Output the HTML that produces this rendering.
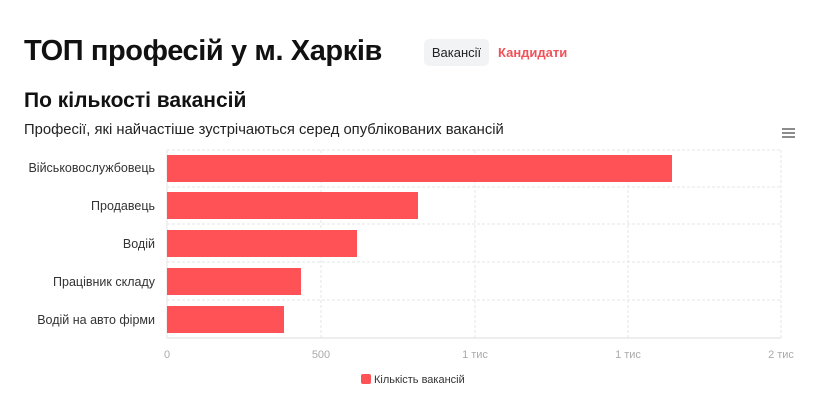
<!DOCTYPE html>
<html><head><meta charset="utf-8"><style>
body{margin:0;width:840px;height:404px;background:#fff;font-family:"Liberation Sans",sans-serif;position:relative;overflow:hidden}
.a{position:absolute;white-space:nowrap}
</style></head><body>
<div class="a" style="left:24px;top:35px;font-size:29px;font-weight:bold;color:#111;letter-spacing:-0.4px">ТОП професій у м. Харків</div>
<div class="a" style="left:424px;top:39px;width:65px;height:27px;background:#f1f3f5;border-radius:5px;font-size:13px;line-height:27px;text-align:center;color:#222">Вакансії</div>
<div class="a" style="left:498px;top:39px;line-height:27px;font-size:13px;font-weight:bold;color:#f0525a">Кандидати</div>
<div class="a" style="left:24px;top:89px;font-size:21px;font-weight:bold;color:#111">По кількості вакансій</div>
<div class="a" style="left:24px;top:122px;font-size:14.8px;color:#222">Професії, які найчастіше зустрічаються серед опублікованих вакансій</div>
<svg class="a" style="left:0;top:0" width="840" height="404">
<g stroke="#666" stroke-width="1.5"><line x1="782" y1="129" x2="795" y2="129"/><line x1="782" y1="133" x2="795" y2="133"/><line x1="782" y1="137" x2="795" y2="137"/></g>
<g stroke="#e6e6e6" stroke-dasharray="3,2"><line x1="167" y1="150" x2="781" y2="150"/><line x1="167" y1="187" x2="781" y2="187"/><line x1="167" y1="224" x2="781" y2="224"/><line x1="167" y1="262" x2="781" y2="262"/><line x1="167" y1="300" x2="781" y2="300"/>
<line x1="321" y1="150" x2="321" y2="338"/><line x1="475" y1="150" x2="475" y2="338"/><line x1="628" y1="150" x2="628" y2="338"/><line x1="781" y1="150" x2="781" y2="338"/></g>
<line x1="167" y1="338" x2="781" y2="338" stroke="#ddd"/>
<line x1="167" y1="150" x2="167" y2="338" stroke="#e6e6e6"/>
<g fill="#ff5257"><rect x="167" y="155" width="505" height="27"/><rect x="167" y="192" width="251" height="27"/><rect x="167" y="230" width="190" height="27"/><rect x="167" y="268" width="134" height="27"/><rect x="167" y="306" width="117" height="27"/></g>
<g font-size="12.5" fill="#333" text-anchor="end"><text x="155" y="172">Військовослужбовець</text><text x="155" y="210">Продавець</text><text x="155" y="248">Водій</text><text x="155" y="286">Працівник складу</text><text x="155" y="324">Водій на авто фірми</text></g>
<g font-size="11" fill="#aaa" text-anchor="middle"><text x="167" y="358">0</text><text x="321" y="358">500</text><text x="475" y="358">1 тис</text><text x="628" y="358">1 тис</text><text x="781" y="358">2 тис</text></g>
<rect x="361" y="374" width="10" height="10" rx="2" fill="#ff5257"/>
<text x="374" y="383" font-size="11" fill="#333">Кількість вакансій</text>
</svg>
</body></html>
